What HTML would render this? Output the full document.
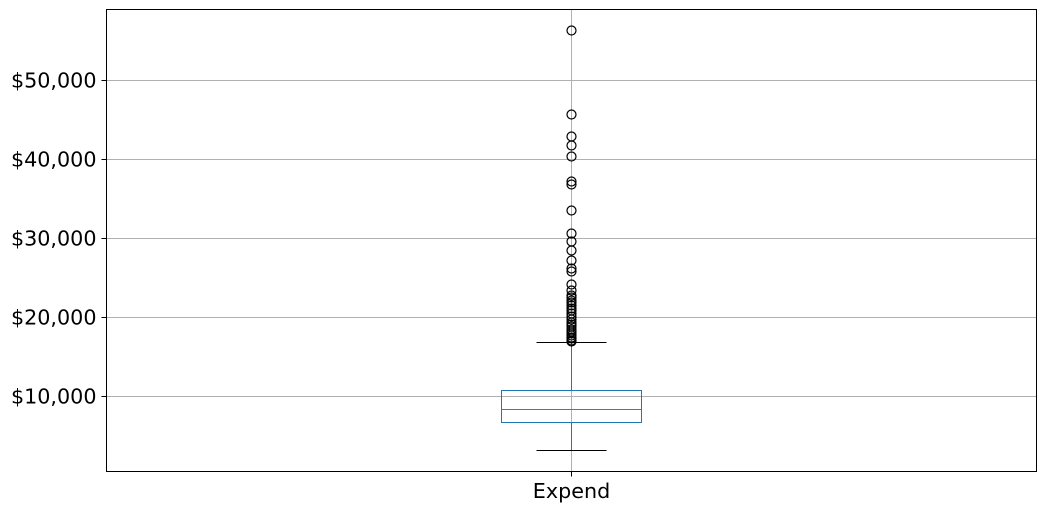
<!DOCTYPE html>
<html><head><meta charset="utf-8"><style>body{margin:0;background:#fff}svg{display:block}text{font-family:"DejaVu Sans",sans-serif;font-size:20.7px;fill:#000}</style></head><body>
<svg id="c" width="1045" height="511"></svg>
<script>
const yTicks=[10000,20000,30000,40000,50000];
const tickLabels=["$10,000","$20,000","$30,000","$40,000","$50,000"];
const category=["Expend"];
const stats=[3164,6709,8354,10759,16835];
const outliers=[56329,45696,42911,41772,40380,37215,36835,33544,30633,29620,28481,27215,26203,25823,24177,23418,22532,22152,21519,20886,20127,19367,18861,18228,17722,17342,16962,17100,17500,18000,18500,19100,19700,20500,21200,21900,22800];
const L=106.5,R=1036.5,T=9.5,B=471.5,cx=571.5;
const y=v=>Math.round(396-(v-10000)*0.0079)+0.5;
const s=document.getElementById('c');const N='http://www.w3.org/2000/svg';
function mk(t,a,p){const e=document.createElementNS(N,t);for(const k in a)e.setAttribute(k,a[k]);(p||s).appendChild(e);return e;}
yTicks.forEach((v,i)=>{
const g=mk('line',{x1:L,x2:R,y1:y(v),y2:y(v),stroke:'#b0b0b0','stroke-width':1});


const tk=mk('line',{x1:L-5,x2:L,y1:y(v),y2:y(v),stroke:'#000'});


const t=mk('text',{x:L-10,y:y(v)+7,'text-anchor':'end'});t.textContent=tickLabels[i];


});
const vg=mk('line',{x1:cx,x2:cx,y1:T,y2:B,stroke:'#b0b0b0','stroke-width':1});


const bl='#1f77b4';
const w1=mk('line',{x1:cx,x2:cx,y1:y(stats[0]),y2:y(stats[1]),stroke:bl});


const w2=mk('line',{x1:cx,x2:cx,y1:y(stats[3]),y2:y(stats[4]),stroke:bl});


const bx=mk('rect',{x:cx-70,width:140,y:y(stats[3]),height:y(stats[1])-y(stats[3]),fill:'none',stroke:bl});


const md=mk('line',{x1:cx-70,x2:cx+70,y1:y(stats[2]),y2:y(stats[2]),stroke:'#2ca02c'});


[stats[0],stats[4]].forEach(v=>{const c=mk('line',{x1:cx-35,x2:cx+35,y1:y(v),y2:y(v),stroke:'#000'});

});
outliers.forEach(v=>{const c=mk('circle',{cx:cx,cy:y(v),r:4.5,fill:'none',stroke:'#000','stroke-width':1.2});

});
const fr=mk('rect',{x:L,y:T,width:R-L,height:B-T,fill:'none',stroke:'#000'});


const xt=mk('line',{x1:cx,x2:cx,y1:B,y2:B+5,stroke:'#000'});


const xl=mk('text',{x:cx,y:498,'text-anchor':'middle'});xl.textContent=category[0];


</script></body></html>
